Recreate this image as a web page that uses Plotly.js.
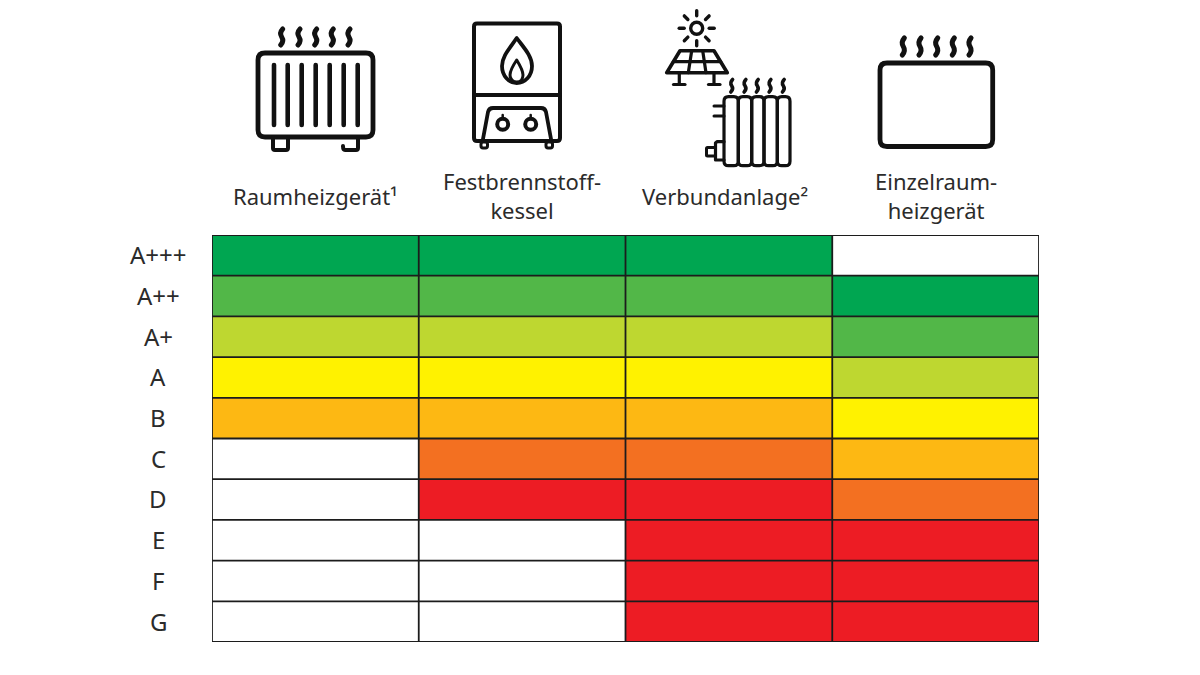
<!DOCTYPE html>
<html>
<head>
<meta charset="utf-8">
<script src="https://cdn.plot.ly/plotly-3.0.1.min.js"></script>
<style>
    html, body { margin: 0; padding: 0; background: #fff; }
    #chart { width: 1200px; height: 675px; }
    .shapelayer path { stroke-linecap: round; stroke-linejoin: round; }
</style>
</head>
<body>
<div id="chart"></div>
<script>
const ratings = ['A+++', 'A++', 'A+', 'A', 'B', 'C', 'D', 'E', 'F', 'G'];
const devices = ['Raumheizgerät¹', 'Festbrennstoff-<br>kessel', 'Verbundanlage²', 'Einzelraum-<br>heizgerät'];

// colour step per rating, top to bottom. null = class does not exist (white cell)
const raumheizgeraet = [0, 1, 2, 3, 4, null, null, null, null, null];
const festbrennstoff = [0, 1, 2, 3, 4, 5, 6, null, null, null];
const verbundanlage = [0, 1, 2, 3, 4, 5, 6, 6, 6, 6];
const einzelraum = [null, 0, 1, 2, 3, 4, 5, 6, 6, 6];

const stepColors = ['#00a651', '#52b748', '#bed730', '#fff200', '#fdb813', '#f37021', '#ed1c24'];

const L = 212, R = 1039, T = 235, B = 642;
const FONT = '"Noto Sans", sans-serif';
const TEXT = '#2b2b2b';

const columns = [raumheizgeraet, festbrennstoff, verbundanlage, einzelraum];
const z = ratings.map((r, i) => columns.map(c => c[i]));
const colorscale = stepColors.map((c, i) => [i / (stepColors.length - 1), c]);

const heat = {
    type: 'heatmap',
    x: devices.map((d, i) => i),
    y: ratings.map((d, i) => i),
    z: z,
    zmin: 0,
    zmax: stepColors.length - 1,
    colorscale: colorscale,
    showscale: false,
    hoverinfo: 'skip'
};

// grid lines
const shapes = [];
for (let i = 0; i <= devices.length; i++) {
    shapes.push({ type: 'line', xref: 'x', yref: 'y', x0: i - 0.5, x1: i - 0.5, y0: -0.5, y1: ratings.length - 0.5,
        line: { color: '#1c1c1c', width: 1.8 } });
}
for (let i = 0; i <= ratings.length; i++) {
    shapes.push({ type: 'line', xref: 'x', yref: 'y', x0: -0.5, x1: devices.length - 0.5, y0: i - 0.5, y1: i - 0.5,
        line: { color: '#1c1c1c', width: 1.8 } });
}

// icons are written in page pixels and turned into paper coordinates
const toPaper = d => d.replace(/(-?[\d.]+),(-?[\d.]+)/g, (m, x, y) =>
    ((Number(x) - L) / (R - L)).toFixed(5) + ',' + ((B - Number(y)) / (B - T)).toFixed(5));

const icon = (d, width) => shapes.push({ type: 'path', xref: 'paper', yref: 'paper', path: toPaper(d),
    line: { color: '#111111', width: width || 4 } });

const rrect = (x0, y0, x1, y1, r) =>
    `M${x0 + r},${y0} L${x1 - r},${y0} Q${x1},${y0} ${x1},${y0 + r} L${x1},${y1 - r} Q${x1},${y1} ${x1 - r},${y1} ` +
    `L${x0 + r},${y1} Q${x0},${y1} ${x0},${y1 - r} L${x0},${y0 + r} Q${x0},${y0} ${x0 + r},${y0} Z`;

const circle = (x, y, r) => {
    const k = r * 0.55;
    return `M${x + r},${y} C${x + r},${y + k} ${x + k},${y + r} ${x},${y + r} C${x - k},${y + r} ${x - r},${y + k} ${x - r},${y} ` +
        `C${x - r},${y - k} ${x - k},${y - r} ${x},${y - r} C${x + k},${y - r} ${x + r},${y - k} ${x + r},${y} Z`;
};

const steam = (xs, y0, y1, a, w) => xs.forEach(x => {
    const h = y1 - y0;
    icon(`M${x + a * 0.4},${y0} Q${x - a},${y0 + h * 0.25} ${x},${y0 + h * 0.5} Q${x + a},${y0 + h * 0.75} ${x - a * 0.4},${y1}`, w);
});

const line = (x0, y0, x1, y1, w) => icon(`M${x0},${y0} L${x1},${y1}`, w);

// Raumheizgeraet
icon(rrect(258, 53, 373, 137, 7), 4.8);
[274, 287.7, 301.7, 315.7, 329.7, 343.7, 357.7].forEach(x => line(x, 65, x, 125, 4.6));
icon('M273,137 L273,148 Q273,150 275,150 L286,150 Q288,150 288,148 L288,137', 4);
icon('M358,137 L358,148 Q358,150 356,150 L345,150 Q343,150 343,146', 4);
steam([281.7, 299, 315.7, 332.3, 349], 29, 45, 2.6, 5);

// Festbrennstoffkessel
icon(rrect(474, 23.5, 560, 141, 3), 4);
line(474, 95, 560, 95, 4);
icon('M516.7,38 C510,48 502,56 502,66 C502,76 509,83 516.7,83 C525,83 532,76 532,66 C532,56 524,48 516.7,38 Z', 3.8);
icon('M516.7,60 C512,67 510,71 510,75 C510,79 513,82 516.7,82 C520.5,82 523,79 523,75 C523,71 521,67 516.7,60 Z', 3);
icon('M483,139 L488,112 Q489,108 493,108 L541,108 Q545,108 546,112 L551,139', 3.8);
icon(circle(502.7, 124.3, 5.5), 4);
icon(circle(530.7, 124.3, 5.5), 4);
line(502.7, 115, 502.7, 118, 2.5);
line(530.7, 115, 530.7, 118, 2.5);
icon(rrect(481, 142, 487.5, 148, 2), 3);
icon(rrect(546, 142, 552.5, 148, 2), 3);

// Verbundanlage: sun
icon(circle(696.7, 28.3, 6), 3.4);
for (let a = 0; a < 8; a++) {
    const c = Math.cos(a * Math.PI / 4), s = Math.sin(a * Math.PI / 4);
    line(696.7 + 12.5 * c, 28.3 + 12.5 * s, 696.7 + 17.5 * c, 28.3 + 17.5 * s, 3.4);
}
// solar panel
icon('M680,50.7 L714,50.7 L727.3,72.7 L666.7,72.7 Z', 3.6);
line(673.3, 61.7, 720.7, 61.7, 3.2);
line(691.7, 50.7, 688.3, 72.7, 3.2);
line(702.7, 50.7, 706, 72.7, 3.2);
line(679.3, 72.7, 679.3, 84, 3.2);
line(673.5, 84.5, 685, 84.5, 3.2);
line(714, 72.7, 714, 84, 3.2);
line(708.5, 84.5, 720, 84.5, 3.2);
// ribbed radiator, one rounded rib per section
[[724, 738.3], [738.3, 751.7], [751.7, 764], [764, 777.3], [777.3, 790]].forEach(s => {
    icon(rrect(s[0], 96.7, s[1], 165.7, 4.5), 3.2);
});
line(714, 106, 724, 106, 3);
line(714, 116, 724, 116, 3);
icon('M724,141.7 L717,141.7 L715.5,143 L715.5,160 L724,160', 3.2);
icon(rrect(706.5, 147.5, 715.5, 156, 1), 3);
steam([731.7, 745, 757.3, 770, 783.3], 79.5, 92, 2.2, 3.6);

// Einzelraumheizgeraet
icon(rrect(880, 63, 992.7, 146.5, 7), 4.8);
steam([903.3, 920, 936.7, 953.3, 970], 38, 55, 2.6, 5);

const annotations = [];
ratings.forEach((r, i) => {
    annotations.push({ xref: 'paper', yref: 'y', x: (158 - L) / (R - L), y: i - 0.015, text: r, showarrow: false,
        xanchor: 'center', yanchor: 'middle', font: { family: FONT, size: 24, color: TEXT } });
});
const labelShift = [0, 0, -4, 0];
devices.forEach((d, i) => {
    annotations.push({ xref: 'x', yref: 'paper', x: i, y: (B - 195.5) / (B - T), text: d, showarrow: false,
        xanchor: 'center', yanchor: 'middle', xshift: labelShift[i], align: 'center',
        font: { family: FONT, size: 22, color: TEXT } });
});

const layout = {
    width: 1200,
    height: 675,
    margin: { l: L, r: 1200 - R, t: T, b: 675 - B, pad: 0 },
    paper_bgcolor: '#ffffff',
    plot_bgcolor: '#ffffff',
    showlegend: false,
    xaxis: { range: [-0.5, devices.length - 0.5], showticklabels: false, ticks: '', showgrid: false, zeroline: false },
    yaxis: { range: [ratings.length - 0.5, -0.5], showticklabels: false, ticks: '', showgrid: false, zeroline: false },
    shapes: shapes,
    annotations: annotations
};

Plotly.newPlot('chart', [heat], layout, { displayModeBar: false, staticPlot: true });
</script>
</body>
</html>
